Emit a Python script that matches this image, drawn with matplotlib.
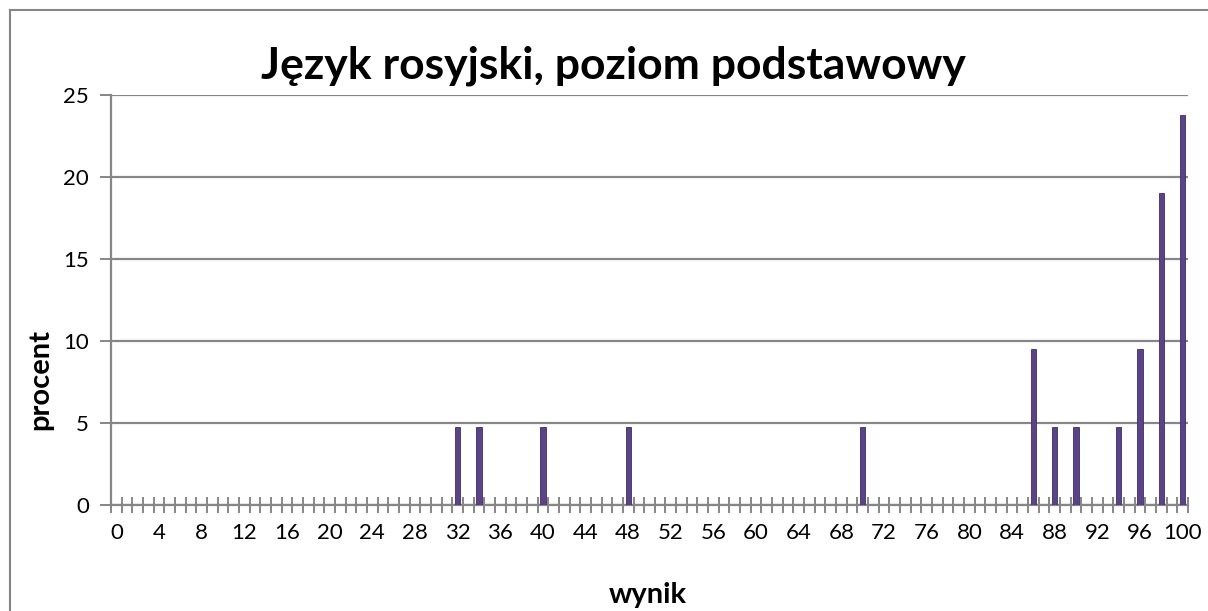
import numpy as np
from matplotlib import pyplot as plt
from matplotlib.ticker import FixedLocator

# wynik (score) and procent of students
wynik = np.arange(0, 101)
wyniki_niezerowe = [32, 34, 40, 48, 70, 86, 88, 90, 94, 96, 98, 100]
procent_niezerowe = [4.76, 4.76, 4.76, 4.76, 4.76, 9.52, 4.76, 4.76, 4.76, 9.52, 19.05, 23.81]
tick_labels = [str(v) for v in range(0, 101, 4)]

procent = np.zeros(len(wynik))
for w, p in zip(wyniki_niezerowe, procent_niezerowe):
    procent[w] = p

plt.rcParams['font.family'] = ['Lato', 'DejaVu Sans']
gray = '#868686'

fig = plt.figure(figsize=(12.08, 6.11), dpi=100)
W, H = 1208, 611
ax = fig.add_axes([111 / W, 1 - 505 / H, (1188 - 111) / W, (505 - 95) / H])

ax.bar(wynik, procent, width=0.5, color='#5b4388', edgecolor='#3f2b66', linewidth=0.6, zorder=3)

ax.set_xlim(-0.5, 100.5)
ax.set_ylim(0, 25)
ax.set_yticks(range(0, 26, 5))
ax.yaxis.grid(True, color=gray, linewidth=1.6, zorder=0)
ax.set_xticks(range(0, 101, 4))
ax.set_xticklabels(tick_labels)
ax.xaxis.set_minor_locator(FixedLocator(np.arange(-0.5, 101, 1)))
ax.tick_params(axis='x', which='major', length=0, pad=13, labelsize=16)
ax.tick_params(axis='x', which='minor', direction='inout', length=12, width=1.4, color=gray)
ax.tick_params(axis='y', length=8, width=1.4, color=gray, pad=8, labelsize=16)

for s in ['top', 'right']:
    ax.spines[s].set_visible(False)
for s in ['left', 'bottom']:
    ax.spines[s].set_color(gray)
    ax.spines[s].set_linewidth(1.6)

fig.text(613 / W, 1 - 66 / H, 'Język rosyjski, poziom podstawowy', ha='center', va='center',
         fontsize=32, fontweight='bold')
fig.text(40 / W, 1 - 380 / H, 'procent', rotation=90, ha='center', va='center',
         fontsize=21, fontweight='bold')
fig.text(648 / W, 1 - 595 / H, 'wynik', ha='center', va='center', fontsize=21, fontweight='bold')

# chart frame (left and top edges visible)
fig.add_artist(plt.Line2D([10 / W, 10 / W], [0, 1 - 10 / H], color=gray, linewidth=1.5))
fig.add_artist(plt.Line2D([10 / W, 1], [1 - 10 / H, 1 - 10 / H], color=gray, linewidth=1.5))

fig.savefig('out.png', dpi=100)
